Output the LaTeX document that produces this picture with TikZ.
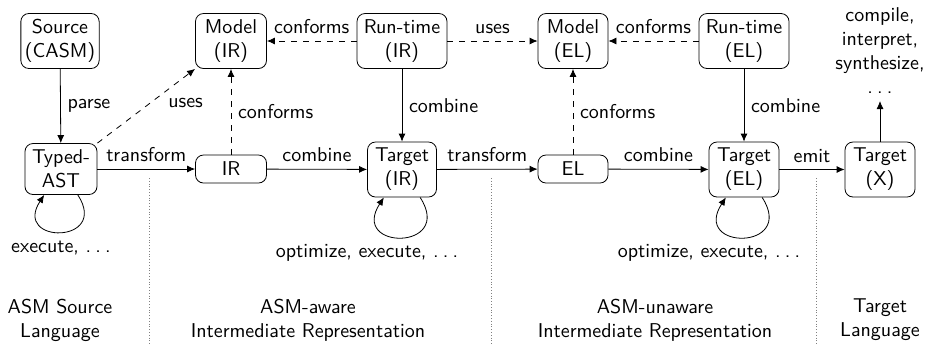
\documentclass[tikz,border=0pt]{standalone}
\usetikzlibrary{arrows.meta}
\newcommand\mydots{.\kern2.1pt.\kern2.1pt.}
\begin{document}
\begin{tikzpicture}[x=0.5pt,y=-0.5pt,
  every node/.style={font=\sffamily},
  box/.style={draw,rounded corners=4pt,align=center,inner sep=2pt,minimum height=27.5pt},
  flat/.style={draw,rounded corners=4pt,align=center,inner sep=2pt,minimum height=14pt},
  arr/.style={-{Latex[length=4pt,width=3.5pt]}},
  sep/.style={densely dotted,gray},
  lbl/.style={align=center}]
\useasboundingbox (0,0) rectangle (925,345);
% nodes
\node[box,minimum width=38.5pt] (src) at (60,41) {Source\\(CASM)};
\node[box,minimum width=35.5pt] (mir) at (231,41) {Model\\(IR)};
\node[box,minimum width=45pt] (rir) at (402,41) {Run-time\\(IR)};
\node[box,minimum width=35pt] (mel) at (573,41) {Model\\(EL)};
\node[box,minimum width=45pt] (rel) at (744,41) {Run-time\\(EL)};
\node[box,minimum width=36pt,minimum height=25.5pt] (ast) at (61,169) {Typed-\\AST};
\node[flat,minimum width=35.5pt] (ir) at (231,169) {IR};
\node[box,minimum width=34.5pt] (tir) at (402,169.5) {Target\\(IR)};
\node[flat,minimum width=35pt] (el) at (573,169) {EL};
\node[box,minimum width=35pt] (tel) at (744,169.5) {Target\\(EL)};
\node[box,minimum width=35pt] (tx) at (880,169.5) {Target\\(X)};
\node[lbl,anchor=south] (ctext) at (880,101) {compile,\\interpret,\\synthesize,\\\mydots};
% separators
\draw[sep] (149,178) -- (149,345);
\draw[sep] (491,178) -- (491,345);
\draw[sep] (816,178) -- (816,345);
% bottom labels
\node[lbl] (l1) at (60,320) {ASM Source\\Language};
\node[lbl] (l2) at (308,320) {ASM-aware\\Intermediate Representation};
\node[lbl] (l3) at (655,320) {ASM-unaware\\Intermediate Representation};
\node[lbl] (l4) at (880,320) {Target\\Language};
% connectors
\draw[arr] (src) -- node[right]{parse} (ast);
\draw[arr,dashed] (ast.north east) -- node[midway,right,xshift=7.5pt,yshift=1.5pt]{uses} (mir.south west);
\draw[arr,dashed] (rir) -- node[above]{conforms} (mir);
\draw[arr,dashed] (rir) -- node[above]{uses} (mel);
\draw[arr,dashed] (rel) -- node[above]{conforms} (mel);
\draw[arr,dashed] (ir) -- node[right]{conforms} (mir);
\draw[arr,dashed] (el) -- node[right]{conforms} (mel);
\draw[arr] (rir) -- node[right]{combine} (tir);
\draw[arr] (rel) -- node[right]{combine} (tel);
\draw[arr] (ast) -- node[above]{transform} (ir);
\draw[arr] (ir) -- node[above]{combine} (tir);
\draw[arr] (tir) -- node[above]{transform} (el);
\draw[arr] (el) -- node[above]{combine} (tel);
\draw[arr] (tel) -- node[above]{emit} (tx);
\draw[arr] (tx) -- (ctext);
% loops
\path (ast) edge[arr,out=-57,in=-123,looseness=4.5] node[pos=0.5,anchor=north,yshift=-1pt]{execute, \mydots} (ast);
\path (tir) edge[arr,out=-57,in=-123,looseness=4.5] node[pos=0.5,anchor=north,xshift=-17.5pt]{optimize, execute, \mydots} (tir);
\path (tel) edge[arr,out=-57,in=-123,looseness=4.5] node[pos=0.5,anchor=north,xshift=-17.5pt]{optimize, execute, \mydots} (tel);
\end{tikzpicture}
\end{document}
